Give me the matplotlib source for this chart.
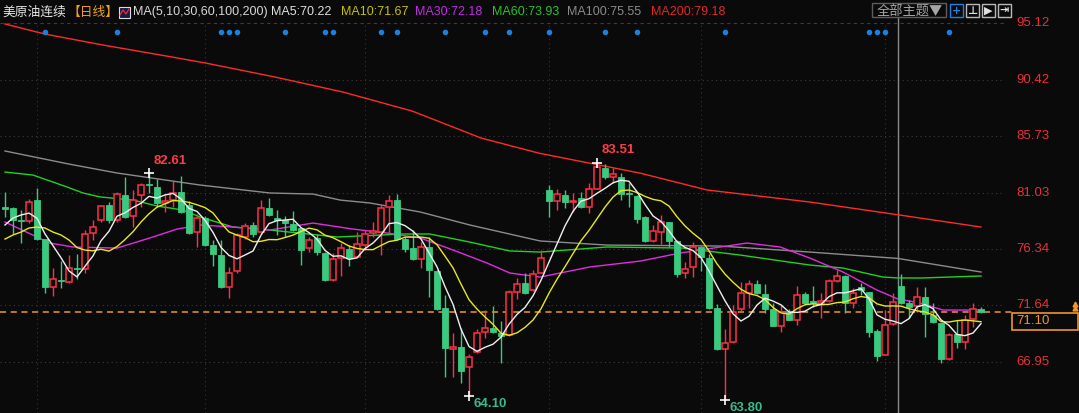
import numpy as np
import pandas as pd
import matplotlib
matplotlib.use('Agg')
import matplotlib.pyplot as plt
from matplotlib.patches import Rectangle

plt.rcParams['font.family'] = ['Noto Sans CJK SC', 'DejaVu Sans']

# daily candles (oldest first)
opens = [79.82, 79.74, 78.70, 78.66, 80.40, 77.16, 73.17, 73.72, 73.59, 74.75,
         74.67, 77.66, 78.74, 79.99, 78.74, 80.82, 79.07, 80.82, 81.70, 81.49,
         80.16, 80.40, 81.07, 79.99, 77.74, 78.91, 76.66, 75.83, 73.17, 74.50,
         77.33, 78.33, 77.74, 79.74, 78.91, 78.74, 78.41, 78.08, 76.41, 77.25,
         76.00, 73.76, 75.58, 76.33, 75.67, 76.66, 77.70, 77.74, 79.82, 80.40,
         77.16, 76.41, 75.50, 76.50, 74.50, 71.43, 68.05, 68.19, 66.52, 67.77,
         69.43, 69.77, 69.35, 69.18, 72.76, 73.51, 72.92, 74.34, 81.24, 80.32,
         80.82, 80.20, 80.57, 79.82, 81.32, 83.07, 82.32, 82.32, 80.95, 80.74,
         78.99, 77.00, 77.74, 78.58, 77.00, 74.34, 74.84, 76.50, 75.58, 71.43,
         68.02, 68.60, 71.34, 72.67, 73.42, 72.59, 71.34, 69.93, 71.10, 70.43,
         72.59, 72.05, 71.84, 72.01, 73.67, 74.09, 71.84, 73.17, 72.76, 69.52,
         67.52, 70.10, 73.26, 71.84, 71.59, 72.34, 70.85, 70.18, 67.19, 69.27,
         68.60, 70.51, 71.34]
highs = [81.07, 79.82, 79.57, 80.49, 81.40, 77.20, 74.75, 75.33, 75.83, 75.92,
         77.91, 78.74, 79.99, 80.24, 81.07, 82.32, 81.24, 81.82, 82.61, 82.15,
         80.82, 81.98, 82.40, 80.32, 79.24, 79.07, 77.08, 77.08, 74.84, 77.66,
         78.49, 78.58, 80.40, 80.57, 79.57, 79.07, 79.49, 78.10, 77.33, 77.58,
         76.10, 76.00, 76.83, 76.66, 77.74, 77.91, 78.58, 79.99, 80.82, 80.90,
         77.33, 77.91, 76.91, 77.33, 74.55, 72.51, 69.35, 69.77, 67.60, 69.68,
         71.26, 71.59, 70.35, 72.92, 73.92, 74.34, 74.59, 76.25, 81.65, 81.32,
         81.24, 80.99, 81.07, 81.82, 83.51, 83.40, 83.07, 82.65, 81.82, 80.80,
         79.05, 78.33, 79.16, 78.60, 77.08, 75.25, 76.91, 76.55, 75.90, 71.76,
         69.68, 71.68, 73.59, 73.76, 73.76, 73.42, 71.84, 71.68, 71.34, 73.26,
         72.76, 73.26, 72.67, 73.84, 74.59, 74.15, 73.09, 73.51, 72.80, 69.68,
         71.26, 72.67, 74.25, 72.09, 73.17, 73.17, 71.84, 70.20, 69.35, 70.43,
         70.85, 71.84, 71.51]
lows = [78.99, 77.58, 76.83, 78.49, 77.08, 72.67, 72.42, 73.09, 73.51, 73.84,
        74.34, 77.08, 78.58, 78.49, 78.58, 78.91, 78.16, 79.82, 80.99, 79.82,
        79.41, 79.82, 79.32, 77.58, 76.50, 76.60, 74.92, 73.10, 72.26, 74.34,
        77.16, 77.33, 77.66, 79.07, 77.50, 77.33, 77.83, 75.00, 76.08, 75.83,
        73.70, 73.70, 74.09, 74.92, 75.60, 76.25, 77.33, 75.83, 77.66, 77.10,
        76.08, 75.42, 74.75, 72.34, 71.30, 65.69, 65.69, 65.19, 64.10, 67.70,
        68.93, 69.35, 66.86, 69.10, 72.18, 72.60, 72.85, 74.30, 78.99, 79.57,
        79.74, 79.41, 79.74, 79.32, 81.30, 82.15, 81.82, 80.40, 79.82, 78.49,
        76.91, 76.91, 76.75, 76.50, 74.00, 73.92, 74.00, 74.50, 71.35, 67.94,
        63.80, 68.52, 71.10, 71.43, 72.60, 71.01, 69.90, 69.43, 70.40, 70.01,
        71.80, 71.51, 70.60, 71.90, 73.60, 71.01, 71.43, 72.51, 69.02, 67.02,
        67.50, 70.05, 71.80, 70.60, 71.10, 69.02, 70.18, 66.86, 67.10, 68.10,
        68.02, 69.85, 71.01]
closes = [79.70, 78.74, 78.62, 80.24, 77.16, 73.17, 73.84, 73.64, 74.75, 74.67,
          77.58, 78.16, 79.91, 78.74, 80.90, 78.99, 80.40, 81.65, 81.62, 80.16,
          80.32, 80.99, 79.41, 77.66, 78.91, 76.66, 75.92, 73.17, 74.34, 77.50,
          78.24, 77.58, 79.74, 79.16, 78.74, 78.49, 77.91, 76.25, 77.08, 76.08,
          73.76, 75.50, 76.41, 75.58, 76.75, 77.58, 77.83, 79.74, 80.32, 77.16,
          76.33, 75.50, 76.50, 74.59, 71.34, 68.10, 68.15, 66.19, 67.36, 69.35,
          69.77, 69.43, 69.10, 72.76, 73.42, 72.67, 74.25, 75.58, 80.32, 80.90,
          80.24, 80.28, 79.82, 81.32, 83.15, 82.32, 82.57, 80.90, 80.87, 78.82,
          77.00, 77.83, 78.58, 77.00, 74.25, 74.67, 76.50, 75.67, 71.43, 68.02,
          68.52, 71.10, 72.67, 73.42, 72.67, 71.34, 69.93, 71.10, 70.43, 72.51,
          71.84, 71.84, 72.01, 73.67, 74.09, 71.84, 72.67, 72.92, 69.43, 67.44,
          70.01, 71.93, 71.84, 71.51, 72.34, 70.93, 70.26, 67.19, 69.18, 68.60,
          70.43, 71.34, 71.10]

# first points of the short averages (need days before the window)
ma5_head = [78.33, 78.91, 79.16, 79.32]
ma10_head = [77.16, 77.50, 77.74, 78.08, 78.16, 78.08, 77.74, 77.50, 77.08]

# long averages, read at a few candle positions
ma30_idx = [0, 5.6, 8.5, 14, 18.1, 21.5, 24.4, 28.5, 33.1, 38.5, 43.5, 47.75, 51.9, 56,
            60.25, 63.1, 66.9, 73.1, 79.4, 84.4, 92.75, 96.9, 100.6, 104.75, 109,
            111.6, 114.4, 117.25, 122]
ma30_val = [78.58, 76.83, 76.50, 76.41, 77.25, 77.99, 78.33, 78.16, 77.91, 78.49, 77.99,
            77.66, 77.25, 76.25, 75.17, 74.34, 74.00, 74.84, 75.33, 76.00, 76.83, 76.50,
            75.58, 74.42, 72.92, 72.18, 71.84, 71.26, 71.26]
ma60_idx = [0, 3.5, 7.75, 9.75, 11.9, 16, 19, 22.25, 24.4, 28.5, 33.1, 41.5, 49.75, 53.1,
            58.1, 63.1, 66.9, 75.25, 84.75, 91.9, 100.6, 104.75, 109.75, 111.6, 114.4, 122]
ma60_val = [82.73, 82.48, 81.49, 80.99, 80.66, 80.40, 79.91, 79.57, 78.99, 78.16, 77.91,
            77.33, 77.58, 77.58, 76.91, 76.17, 76.08, 76.50, 76.41, 75.83, 75.00, 74.75,
            74.00, 73.93, 73.92, 74.09]
ma100_idx = [0, 7.95, 14, 24.4, 33.1, 38.5, 41.9, 45.6, 51.9, 58.1, 66.9, 75.25, 89.4,
             100.6, 111.6, 122]
ma100_val = [84.48, 83.40, 82.65, 81.65, 80.99, 80.90, 80.40, 80.16, 79.41, 78.33, 77.00,
             76.66, 76.58, 76.08, 75.55, 74.42]
ma200_idx = [0, 5, 12.25, 20.9, 25.1, 33.75, 42.25, 50.9, 59.5, 66.75, 79.4, 87.75,
             100.6, 111.6, 122]
ma200_val = [95.04, 94.20, 93.29, 92.29, 91.79, 90.63, 89.38, 87.80, 85.56, 84.30, 82.64,
             81.24, 80.24, 79.18, 78.16]

price_ticks = [95.12, 90.42, 85.73, 81.03, 76.34, 71.64, 66.95]
month_starts = [4, 25, 45, 68, 87, 110]
event_idx = [5, 14, 27, 28, 29, 35, 40, 41, 47, 49, 55, 60, 63, 68, 75, 79, 90,
             108, 109, 110, 118]
last_price = 71.10

BG = '#0a0a0a'
RED = '#ff3048'
GREEN = '#3ac97f'
W, H = 1079, 413


def px_x(px):
    return px / 8.0 - 0.625


def px_y(py):
    return 95.12 - (py - 23) / 12.03


fig = plt.figure(figsize=(W / 100, H / 100), dpi=100, facecolor=BG)
ax = fig.add_axes([0, 0, 1005 / W, 1])
ax.set_xlim(px_x(0), px_x(1005))
ax.set_ylim(px_y(413), px_y(0))
ax.set_axis_off()

# grid
for k, p in enumerate(price_ticks):
    ls = (0, (3, 3)) if k == 0 else (0, (1, 3))
    ax.axhline(p, color='#3c3c3c', lw=0.8, ls=ls, zorder=0)
for m in month_starts:
    ax.plot([m, m], [px_y(413), px_y(23)], color='#333333', lw=0.8, ls=(0, (1, 3)), zorder=0)

# cursor line
ax.plot([px_x(898)] * 2, [px_y(413), px_y(18)], color='#8a8a8a', lw=1, zorder=1)

# last price line
ax.plot([px_x(0), px_x(1012)], [last_price] * 2, color='#f0962a', lw=1.1,
        ls=(0, (4, 3)), zorder=1, clip_on=False)

# moving averages
s = pd.Series(closes)
ma5 = s.rolling(5).mean().values
ma10 = s.rolling(10).mean().values
ma5[:4] = ma5_head
ma10[:9] = ma10_head
idx = np.arange(len(closes))
ax.plot(ma200_idx, ma200_val, color='#ff2a2a', lw=1, zorder=2)
ax.plot(ma100_idx, ma100_val, color='#8c8c8c', lw=1, zorder=2)
ax.plot(ma60_idx, ma60_val, color='#22d022', lw=1, zorder=2)
ax.plot(ma30_idx, ma30_val, color='#e02ce0', lw=1, zorder=2)

# candles
for i in range(len(closes)):
    o, h, l, c = opens[i], highs[i], lows[i], closes[i]
    up = c >= o
    col = RED if up else GREEN
    ax.plot([i, i], [l, h], color=col, lw=1, zorder=3, solid_capstyle='butt')
    bot = min(o, c)
    hgt = max(abs(c - o), 0.09)
    if up:
        ax.add_patch(Rectangle((i - 0.4, bot), 0.8, hgt, facecolor=BG, edgecolor=col,
                               lw=1.1, zorder=4))
    else:
        ax.add_patch(Rectangle((i - 0.4, bot), 0.8, hgt, facecolor=col, edgecolor=col,
                               lw=0.6, zorder=4))

ax.plot(idx, ma10, color='#e8e81a', lw=1, zorder=5)
ax.plot(idx, ma5, color='#f0f0f0', lw=1, zorder=6)

# event dots
ax.scatter(event_idx, [px_y(32)] * len(event_idx), s=9, color='#1f80d8', zorder=6)

# high / low marks
hi1 = int(np.argmax(highs[:40]))
hi2 = 60 + int(np.argmax(highs[60:]))
lo1 = int(np.argmin(lows[:70]))
lo2 = 70 + int(np.argmin(lows[70:]))
for k in (hi1, hi2):
    ax.plot(k, highs[k], marker='+', color='white', ms=7, mew=1.2, zorder=7)
    ax.text(k + 0.6, highs[k] + 0.55, f'{highs[k]:.2f}', color='#ff3a4a', fontsize=9.5,
            fontweight='bold', family='Liberation Sans', va='bottom', ha='left', zorder=7)
for k in (lo1, lo2):
    ax.plot(k, lows[k], marker='+', color='white', ms=7, mew=1.2, zorder=7)
    ax.text(k + 0.6, lows[k] - 0.15, f'{lows[k]:.2f}', color='#3bb88c', fontsize=9.5,
            fontweight='bold', family='Liberation Sans', va='top', ha='left', zorder=7)

# right axis labels
for p in price_ticks:
    ax.text(px_x(1016), p, f'{p:.2f}', color='#e8303c', fontsize=9.5,
            family='Liberation Sans', va='center', ha='left', clip_on=False)
ax.add_patch(Rectangle((px_x(1012), px_y(330)), px_x(1078) - px_x(1012),
                       px_y(313) - px_y(330), facecolor=BG, edgecolor='#f0962a',
                       lw=1.2, clip_on=False, zorder=8))
ax.text(px_x(1016), px_y(321.5), f'{last_price:.2f}', color='#f0962a', fontsize=9.5,
        family='Liberation Sans', va='center', ha='left', clip_on=False, zorder=9)
for yy in (304, 308):
    ax.plot(px_x(1075), px_y(yy), marker='^', ms=3.5, color='#f0962a', clip_on=False)


# header
def ftxt(x, text, color, size=9, fam=None, **kw):
    fig.text(x / W, 1 - 12 / H, text, color=color, fontsize=size, va='center', ha='left',
             family=fam if fam else ['Noto Sans CJK SC', 'DejaVu Sans'], **kw)


ftxt(2, '美原油连续', '#e6e6e6', 9.2)
ftxt(67, '【日线】', '#f0a020', 9.2)
fig.patches.append(Rectangle((119 / W, 1 - 18 / H), 11 / W, 11 / H, transform=fig.transFigure,
                             facecolor='#1a1a4a', edgecolor='#dddddd', lw=0.8))
fig.lines.append(plt.Line2D([120 / W, 123 / W, 126 / W, 129 / W],
                            [1 - 15 / H, 1 - 10 / H, 1 - 14 / H, 1 - 9 / H],
                            transform=fig.transFigure, color='#ff3030', lw=0.8))
ftxt(133, 'MA(5,10,30,60,100,200)', '#d8d8d8', fam='Liberation Sans')
ftxt(271, 'MA5:70.22', '#e0e0e0', fam='Liberation Sans')
ftxt(341, 'MA10:71.67', '#c8c000', fam='Liberation Sans')
ftxt(415, 'MA30:72.18', '#c02ce0', fam='Liberation Sans')
ftxt(492, 'MA60:73.93', '#2cc02c', fam='Liberation Sans')
ftxt(567, 'MA100:75.55', '#8a8a8a', fam='Liberation Sans')
ftxt(651, 'MA200:79.18', '#e02828', fam='Liberation Sans')

# toolbar
fig.patches.append(Rectangle((872 / W, 1 - 17 / H), 74 / W, 14 / H, transform=fig.transFigure,
                             facecolor='none', edgecolor='#5c5c5c', lw=1))
ftxt(877, '全部主题▼', '#a6a6a6', 9.5)
icons = ['+', '⊥', '▶', '⇥']
for k, g in enumerate(icons):
    x0 = 950 + 16 * k
    ec = '#2080e0' if k == 0 else '#b8b8b8'
    fig.patches.append(Rectangle((x0 / W, 1 - 17 / H), 13 / W, 13 / H,
                                 transform=fig.transFigure, facecolor='none',
                                 edgecolor=ec, lw=1))
    fig.text((x0 + 6.5) / W, 1 - 10.5 / H, g, color=ec if k == 0 else '#e0e0e0',
             fontsize=8, ha='center', va='center', family='DejaVu Sans',
             fontweight='bold')

fig.savefig('out.png', dpi=100, facecolor=BG)
